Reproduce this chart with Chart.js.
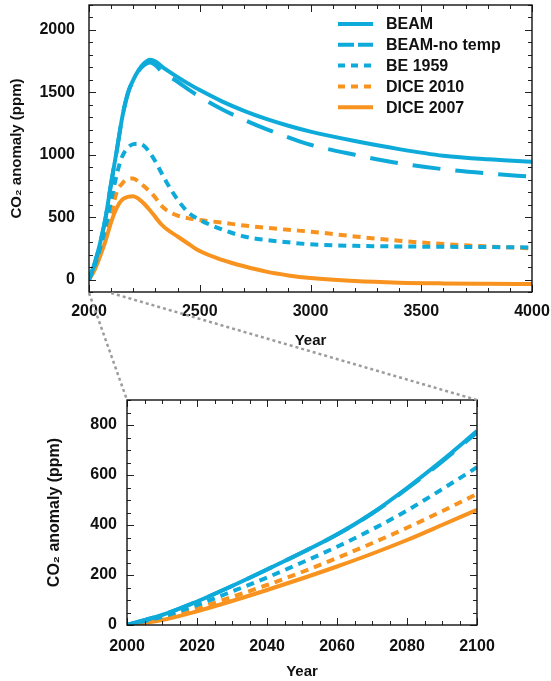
<!DOCTYPE html>
<html>
<head>
<meta charset="utf-8">
<script src="https://cdn.jsdelivr.net/npm/chart.js@4.4.1/dist/chart.umd.min.js"></script>
<style>
  body { margin: 0; background: #fff; }
  #wrap { position: relative; width: 551px; height: 681px; }
  canvas { position: absolute; left: 0; }
</style>
</head>
<body>
<div id="wrap">
  <canvas id="topChart" width="551" height="350" style="top:0;width:551px;height:350px"></canvas>
  <canvas id="zoomChart" width="551" height="331" style="top:350px;width:551px;height:331px"></canvas>
  <canvas id="links" width="551" height="681" style="top:0;width:551px;height:681px;pointer-events:none"></canvas>
</div>
<script>
// series names (legend order)
const seriesNames = ['BEAM', 'BEAM-no temp', 'BE 1959', 'DICE 2010', 'DICE 2007'];

// top panel: 2000-4000
const topYears = [2000, 2025, 2050, 2075, 2100, 2125, 2150, 2175, 2200, 2225, 2250, 2275, 2300, 2325, 2350,
                  2400, 2450, 2500, 2600, 2700, 2800, 2900, 3000, 3200, 3400, 3600, 3800, 4000];
const beam       = [0, 126, 290, 497, 775, 1030, 1300, 1490, 1600, 1680, 1735, 1762, 1748, 1712, 1680,
                    1622, 1568, 1518, 1428, 1352, 1287, 1232, 1185, 1110, 1045, 992, 963, 944];
const beamNoTemp = [0, 126, 290, 497, 772, 1030, 1300, 1490, 1600, 1675, 1720, 1740, 1718, 1672, 1640,
                    1585, 1522, 1465, 1365, 1280, 1205, 1140, 1080, 1000, 932, 884, 850, 824];
const be1959     = [0, 107, 250, 420, 632, 840, 985, 1055, 1085, 1088, 1068, 1015, 945, 862, 780,
                    640, 535, 478, 402, 345, 317, 298, 282, 270, 265, 262, 260, 257];
const dice2010   = [0, 90, 214, 357, 524, 700, 770, 805, 810, 782, 745, 705, 655, 595, 556,
                    512, 490, 477, 456, 433, 415, 398, 384, 345, 311, 284, 265, 250];
const dice2007   = [0, 75, 187, 312, 461, 575, 640, 662, 668, 645, 605, 555, 500, 445, 405,
                    345, 285, 228, 158, 106, 63, 33, 12, -12, -25, -31, -34, -36];
const topXTicks = [2000, 2500, 3000, 3500, 4000];
const topYTicks = [0, 500, 1000, 1500, 2000];

// bottom panel: 2000-2100
const zoomYears    = [2000, 2010, 2020, 2030, 2040, 2050, 2060, 2070, 2080, 2090, 2100];
const zBeam        = [0, 40, 94, 156, 222, 290, 362, 447, 548, 658, 776];
const zBeamNoTemp  = [0, 40, 94, 156, 222, 290, 362, 446, 545, 653, 770];
const zBe1959      = [0, 33, 80, 134, 190, 250, 313, 382, 458, 543, 631];
const zDice2010    = [0, 24, 66, 112, 160, 212, 268, 327, 389, 455, 524];
const zDice2007    = [0, 20, 55, 96, 140, 186, 234, 285, 340, 400, 461];
const zoomXTicks = [2000, 2020, 2040, 2060, 2080, 2100];
const zoomYTicks = [0, 200, 400, 600, 800];

const BLUE = '#0eaad9';
const ORANGE = '#f7931e';
const FONT = '"Liberation Sans", Arial, Helvetica, sans-serif';

Chart.defaults.font.family = FONT;
Chart.defaults.color = '#111';

const styles = [
    { color: BLUE,   dash: [],       legendDash: [] },
    { color: BLUE,   dash: [28, 15], legendDash: [16, 4] },
    { color: BLUE,   dash: [8, 6],   legendDash: [7, 6] },
    { color: ORANGE, dash: [8, 6],   legendDash: [7, 6] },
    { color: ORANGE, dash: [],       legendDash: [] }
];

function makeDatasets(xs, seriesList) {
    return seriesList.map((ys, i) => ({
        label: seriesNames[i],
        data: xs.map((x, j) => ({ x: x, y: ys[j] })),
        borderColor: styles[i].color,
        borderWidth: 4,
        borderDash: styles[i].dash,
        legendDash: styles[i].legendDash,
        borderCapStyle: 'butt',
        pointRadius: 0,
        fill: false,
        cubicInterpolationMode: 'monotone'
    }));
}

// box around plot + inward ticks on all four sides
const frameTicks = {
    id: 'frameTicks',
    afterDraw(chart, args, opts) {
        const { ctx, chartArea: a, scales: { x, y } } = chart;
        ctx.save();
        ctx.strokeStyle = '#222';
        ctx.lineWidth = 1;
        const mark = (scale, step, len) => {
            for (let v = Math.ceil(scale.min / step) * step; v <= scale.max; v += step) {
                const p = Math.round(scale.getPixelForValue(v)) + 0.5;
                ctx.beginPath();
                if (scale.isHorizontal()) {
                    ctx.moveTo(p, a.bottom); ctx.lineTo(p, a.bottom - len);
                    ctx.moveTo(p, a.top); ctx.lineTo(p, a.top + len);
                } else {
                    ctx.moveTo(a.left, p); ctx.lineTo(a.left + len, p);
                    ctx.moveTo(a.right, p); ctx.lineTo(a.right - len, p);
                }
                ctx.stroke();
            }
        };
        mark(x, opts.xMinor, 4);
        mark(x, opts.xMajor, 7);
        mark(y, opts.yMinor, 4);
        mark(y, opts.yMajor, 7);
        ctx.lineWidth = 1.4;
        ctx.strokeStyle = '#111';
        ctx.strokeRect(a.left, a.top, a.right - a.left, a.bottom - a.top);
        ctx.restore();
    }
};

// legend drawn inside the plot, line samples with their own dash
const lineLegend = {
    id: 'lineLegend',
    afterDraw(chart, args, opts) {
        if (!opts.show) return;
        const { ctx } = chart;
        ctx.save();
        ctx.font = 'bold 16px ' + FONT;
        ctx.textBaseline = 'middle';
        chart.data.datasets.forEach((ds, i) => {
            const y = opts.top + i * opts.gap;
            ctx.strokeStyle = ds.borderColor;
            ctx.lineWidth = 4;
            ctx.setLineDash(ds.legendDash);
            ctx.beginPath();
            ctx.moveTo(opts.left, y);
            ctx.lineTo(opts.left + 35, y);
            ctx.stroke();
            ctx.setLineDash([]);
            ctx.fillStyle = '#111';
            ctx.fillText(ds.label, opts.left + 48, y + 1);
        });
        ctx.restore();
    }
};

function axes(cfg) {
    const tickFont = { size: 16, weight: 'bold' };
    return {
        x: {
            type: 'linear', min: cfg.xMin, max: cfg.xMax,
            afterBuildTicks: s => { s.ticks = cfg.xTicks.map(v => ({ value: v })); },
            afterFit: s => { s.height = cfg.xHeight; s.paddingLeft = 0; s.paddingRight = 0; },
            ticks: { font: tickFont, padding: cfg.xPad, maxRotation: 0, autoSkip: false, callback: v => String(v) },
            grid: { display: false, drawTicks: false },
            border: { display: false },
            title: { display: true, text: 'Year', font: { size: 15, weight: 'bold' }, padding: { top: 0, bottom: 0 } }
        },
        y: {
            type: 'linear', min: cfg.yMin, max: cfg.yMax,
            afterBuildTicks: s => { s.ticks = cfg.yTicks.map(v => ({ value: v })); },
            afterFit: s => { s.width = cfg.yWidth; s.paddingTop = 0; s.paddingBottom = 0; },
            ticks: { font: tickFont, padding: cfg.yPad, autoSkip: false, callback: v => String(v) },
            grid: { display: false, drawTicks: false },
            border: { display: false },
            title: { display: true, text: 'CO₂ anomaly (ppm)', font: { size: cfg.yTitleSize, weight: 'bold' }, padding: { top: cfg.yTitlePad, bottom: 0 } }
        }
    };
}

const topChart = new Chart(document.getElementById('topChart'), {
    type: 'line',
    data: { datasets: makeDatasets(topYears, [beam, beamNoTemp, be1959, dice2010, dice2007]) },
    options: {
        responsive: false,
        animation: false,
        layout: { padding: { left: 0, top: 5, right: 19, bottom: 0 } },
        scales: axes({
            xMin: 2000, xMax: 4000, xTicks: topXTicks, xHeight: 58, xPad: 10,
            yMin: -100, yMax: 2200, yTicks: topYTicks, yWidth: 89, yPad: 14,
            yTitleSize: 15, yTitlePad: 8
        }),
        plugins: {
            legend: { display: false },
            tooltip: { enabled: false },
            frameTicks: { xMinor: 100, xMajor: 500, yMinor: 100, yMajor: 500 },
            lineLegend: { show: true, left: 338, top: 24, gap: 20.8 }
        }
    },
    plugins: [frameTicks, lineLegend]
});

const zoomChart = new Chart(document.getElementById('zoomChart'), {
    type: 'line',
    data: { datasets: makeDatasets(zoomYears, [zBeam, zBeamNoTemp, zBe1959, zDice2010, zDice2007]) },
    options: {
        responsive: false,
        animation: false,
        layout: { padding: { left: 0, top: 50, right: 74, bottom: 0 } },
        scales: axes({
            xMin: 2000, xMax: 2100, xTicks: zoomXTicks, xHeight: 56, xPad: 12,
            yMin: 0, yMax: 900, yTicks: zoomYTicks, yWidth: 127, yPad: 10,
            yTitleSize: 16, yTitlePad: 45
        }),
        plugins: {
            legend: { display: false },
            tooltip: { enabled: false },
            frameTicks: { xMinor: 5, xMajor: 20, yMinor: 50, yMajor: 200 },
            lineLegend: { show: false }
        }
    },
    plugins: [frameTicks, lineLegend]
});

// dotted zoom connectors from the top x axis to the lower panel corners
const lctx = document.getElementById('links').getContext('2d');
const zoomTop = 350;
const ta = topChart.chartArea;
const za = zoomChart.chartArea;
lctx.strokeStyle = '#9c9c9c';
lctx.lineWidth = 2.5;
lctx.setLineDash([3, 3]);
lctx.beginPath();
lctx.moveTo(topChart.scales.x.getPixelForValue(zoomYears[0]), ta.bottom + 1);
lctx.lineTo(za.left, zoomTop + za.top);
lctx.moveTo(topChart.scales.x.getPixelForValue(zoomYears[zoomYears.length - 1]), ta.bottom + 1);
lctx.lineTo(za.right, zoomTop + za.top);
lctx.stroke();
</script>
</body>
</html>
